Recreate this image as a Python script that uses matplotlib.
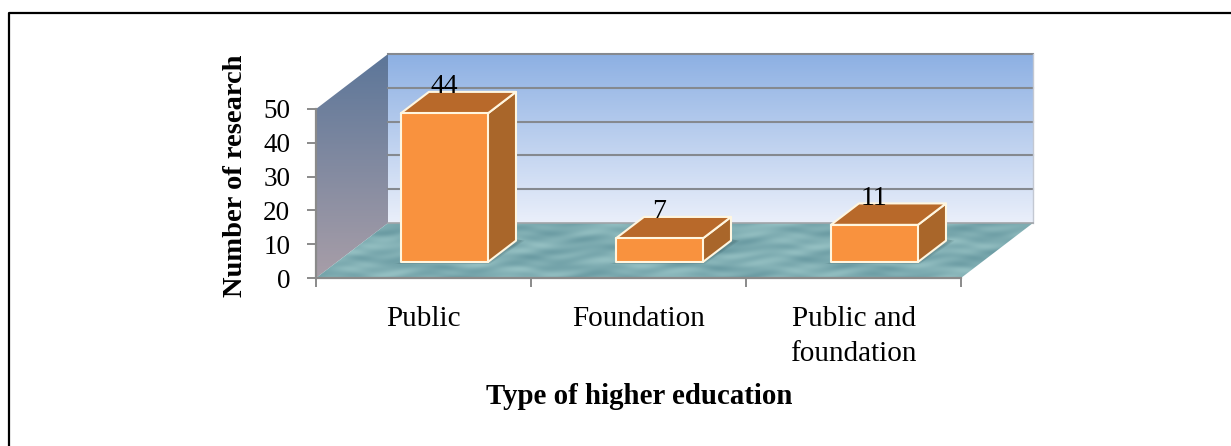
# -*- coding: utf-8 -*-

import numpy as np
import matplotlib
matplotlib.use('Agg')
import matplotlib.pyplot as plt
from matplotlib.patches import Polygon

categories = ['Public', 'Foundation', 'Public and\nfoundation']
values = [44, 7, 11]
yticks = [0, 10, 20, 30, 40, 50]

W, H = 1231, 446

# Pixel box of the front plane of the chart.
LEFT, RIGHT, BOTTOM, TOP = 316, 961, 278, 109

# Oblique depth of the box and of the bars, in axis units.
DEPTH_X = 72 / 215.
DEPTH_Y = 55 / 3.38
BAR_OFFSET = 0.29
BAR_DEPTH = 0.39
BAR_WIDTH = 0.405

plt.rcParams['font.family'] = ['Liberation Serif', 'DejaVu Serif']


def proj(x, y, d):
    # d is the depth as a fraction of the box, 0 = front, 1 = back wall.
    return (x + d * DEPTH_X, y + d * DEPTH_Y)


def shaded(ax, poly, colors=None, texture=None):
    # Fill a polygon with a vertical gradient by clipping an image to it.
    poly = np.array(poly)
    x0, x1 = poly[:, 0].min(), poly[:, 0].max()
    y0, y1 = poly[:, 1].min(), poly[:, 1].max()
    if texture is not None:
        img = texture
    else:
        c0 = np.array(matplotlib.colors.to_rgb(colors[0]))
        c1 = np.array(matplotlib.colors.to_rgb(colors[1]))
        t = np.linspace(0., 1., 200)[:, None, None]
        img = np.repeat(c0 + (c1 - c0) * t, 2, axis=1)
    im = ax.imshow(img, extent=(x0, x1, y0, y1), origin='upper', aspect='auto',
        zorder=1, interpolation='bilinear')
    im.set_clip_path(Polygon(poly, closed=True, transform=ax.transData))
    im.set_clip_box(ax.figure.bbox)


def water(shape):
    # Wavy sea-green pattern of the chart floor.
    yy, xx = np.mgrid[0:shape[0], 0:shape[1]]
    w = np.sin(xx / 23. + 1.7 * np.sin(yy / 5.)) + 0.7 * np.sin(xx / 9. + yy / 3.) \
        + 0.5 * np.sin(yy / 1.6 + np.sin(xx / 14.) * 2.)
    w = w[:, :, None] / 2.2
    base = np.array([0.50, 0.68, 0.70])
    light = np.array([0.08, 0.07, 0.06])
    return np.clip(base + light * w, 0, 1)


fig = plt.figure(figsize=(W / 100., H / 100.), dpi=100)

# The page frame: only the top and left rules fall inside the crop.
frame_x = 9 / W
frame_y = 1 - 13 / H
fig.add_artist(plt.Line2D([frame_x, frame_x, 1], [0, frame_y, frame_y], color='black', lw=1.6))

ax = fig.add_axes([LEFT / W, 1 - BOTTOM / H, (RIGHT - LEFT) / W, (BOTTOM - TOP) / H])
ax.patch.set_alpha(0)

n = len(categories)

# Back wall, side wall and floor.
wall = [proj(0, 0, 1), proj(n, 0, 1), proj(n, 50, 1), proj(0, 50, 1)]
shaded(ax, wall, ('#8db0e3', '#eaeffa'))
side = [proj(0, 0, 0), proj(0, 0, 1), proj(0, 50, 1), proj(0, 50, 0)]
shaded(ax, side, ('#5c7699', '#a89ea8'))
floor = [proj(0, 0, 0), proj(n, 0, 0), proj(n, 0, 1), proj(0, 0, 1)]
shaded(ax, floor, texture=water((60, 720)))

# Gridlines on the back wall and the outline of the box.
for v in yticks[1:]:
    ax.plot(*zip(proj(0, v, 1), proj(n, v, 1)), color='#85898f', lw=1.5, zorder=2,
        clip_on=False)
ax.plot(*zip(proj(n, 0, 1), proj(n, 50, 1)), color='#c3c8d2', lw=1.0, zorder=2, clip_on=False)
ax.plot(*zip(proj(0, 0, 1), proj(n, 0, 1)), color='#a0a4a8', lw=1.2, zorder=2, clip_on=False)

# Bars.
for i, v in enumerate(values):
    x0 = i + (1 - BAR_WIDTH) / 2.
    x1 = x0 + BAR_WIDTH
    d0 = BAR_OFFSET
    d1 = BAR_OFFSET + BAR_DEPTH

    # Soft shadow on the floor.
    for grow, alpha in ((0.02, 0.12), (0.01, 0.15)):
        ax.add_patch(Polygon([proj(x0 - grow, 0, d0 - 0.03), proj(x1 + grow, 0, d0 - 0.03),
            proj(x1 + grow + 0.02, 0, d1), proj(x1, 0, d1 + 0.02)], closed=True,
            fc='#24434a', ec='none', alpha=alpha, zorder=3, clip_on=False))

    edge = dict(ec='#fff6e0', lw=1.5, joinstyle='round', clip_on=False)
    ax.add_patch(Polygon([proj(x1, 0, d0), proj(x1, 0, d1), proj(x1, v, d1), proj(x1, v, d0)],
        closed=True, fc='#a9662a', zorder=4, **edge))
    ax.add_patch(Polygon([proj(x0, v, d0), proj(x1, v, d0), proj(x1, v, d1), proj(x0, v, d1)],
        closed=True, fc='#b8692a', zorder=4, **edge))
    ax.add_patch(Polygon([proj(x0, 0, d0), proj(x1, 0, d0), proj(x1, v, d0), proj(x0, v, d0)],
        closed=True, fc='#f9923e', zorder=5, **edge))

    # Value label sits over the middle of the front face, at the back of the top.
    lx = proj((x0 + x1) / 2., v, d0)[0]
    ly = proj((x0 + x1) / 2., v, d1)[1]
    ax.text(lx, ly - 2.2, str(v), ha='center', va='bottom', fontsize=20, color='black',
        zorder=6, clip_on=False)

ax.set_xlim(0, n)
ax.set_ylim(0, 50)
ax.set_xticks(np.arange(n + 1))
ax.set_xticklabels([])
ax.set_xticks(np.arange(n) + 0.5, minor=True)
ax.set_xticklabels(categories, minor=True, fontsize=21, linespacing=1.47)
ax.set_yticks(yticks)
ax.tick_params(axis='y', labelsize=19.5, length=6.5, width=1.4, color='#8a8a8a', pad=12)
ax.tick_params(axis='x', which='major', length=6.5, width=1.4, color='#8a8a8a')
ax.tick_params(axis='x', which='minor', length=0, pad=20)
for s in ('top', 'right'):
    ax.spines[s].set_visible(False)
for s in ('left', 'bottom'):
    ax.spines[s].set_color('#8a8a8a')
    ax.spines[s].set_linewidth(1.6)
    ax.spines[s].set_zorder(3)

ax.set_xlim(0, n)
ax.set_ylim(0, 50)

fig.text(639 / W, 1 - 397 / H, 'Type of higher education', ha='center', va='center',
    fontsize=20.8, fontweight='bold')
fig.text(236 / W, 1 - 176 / H, 'Number of research', ha='center', va='center',
    rotation=90, fontsize=20.5, fontweight='bold')

fig.savefig('out.png', dpi=100)
